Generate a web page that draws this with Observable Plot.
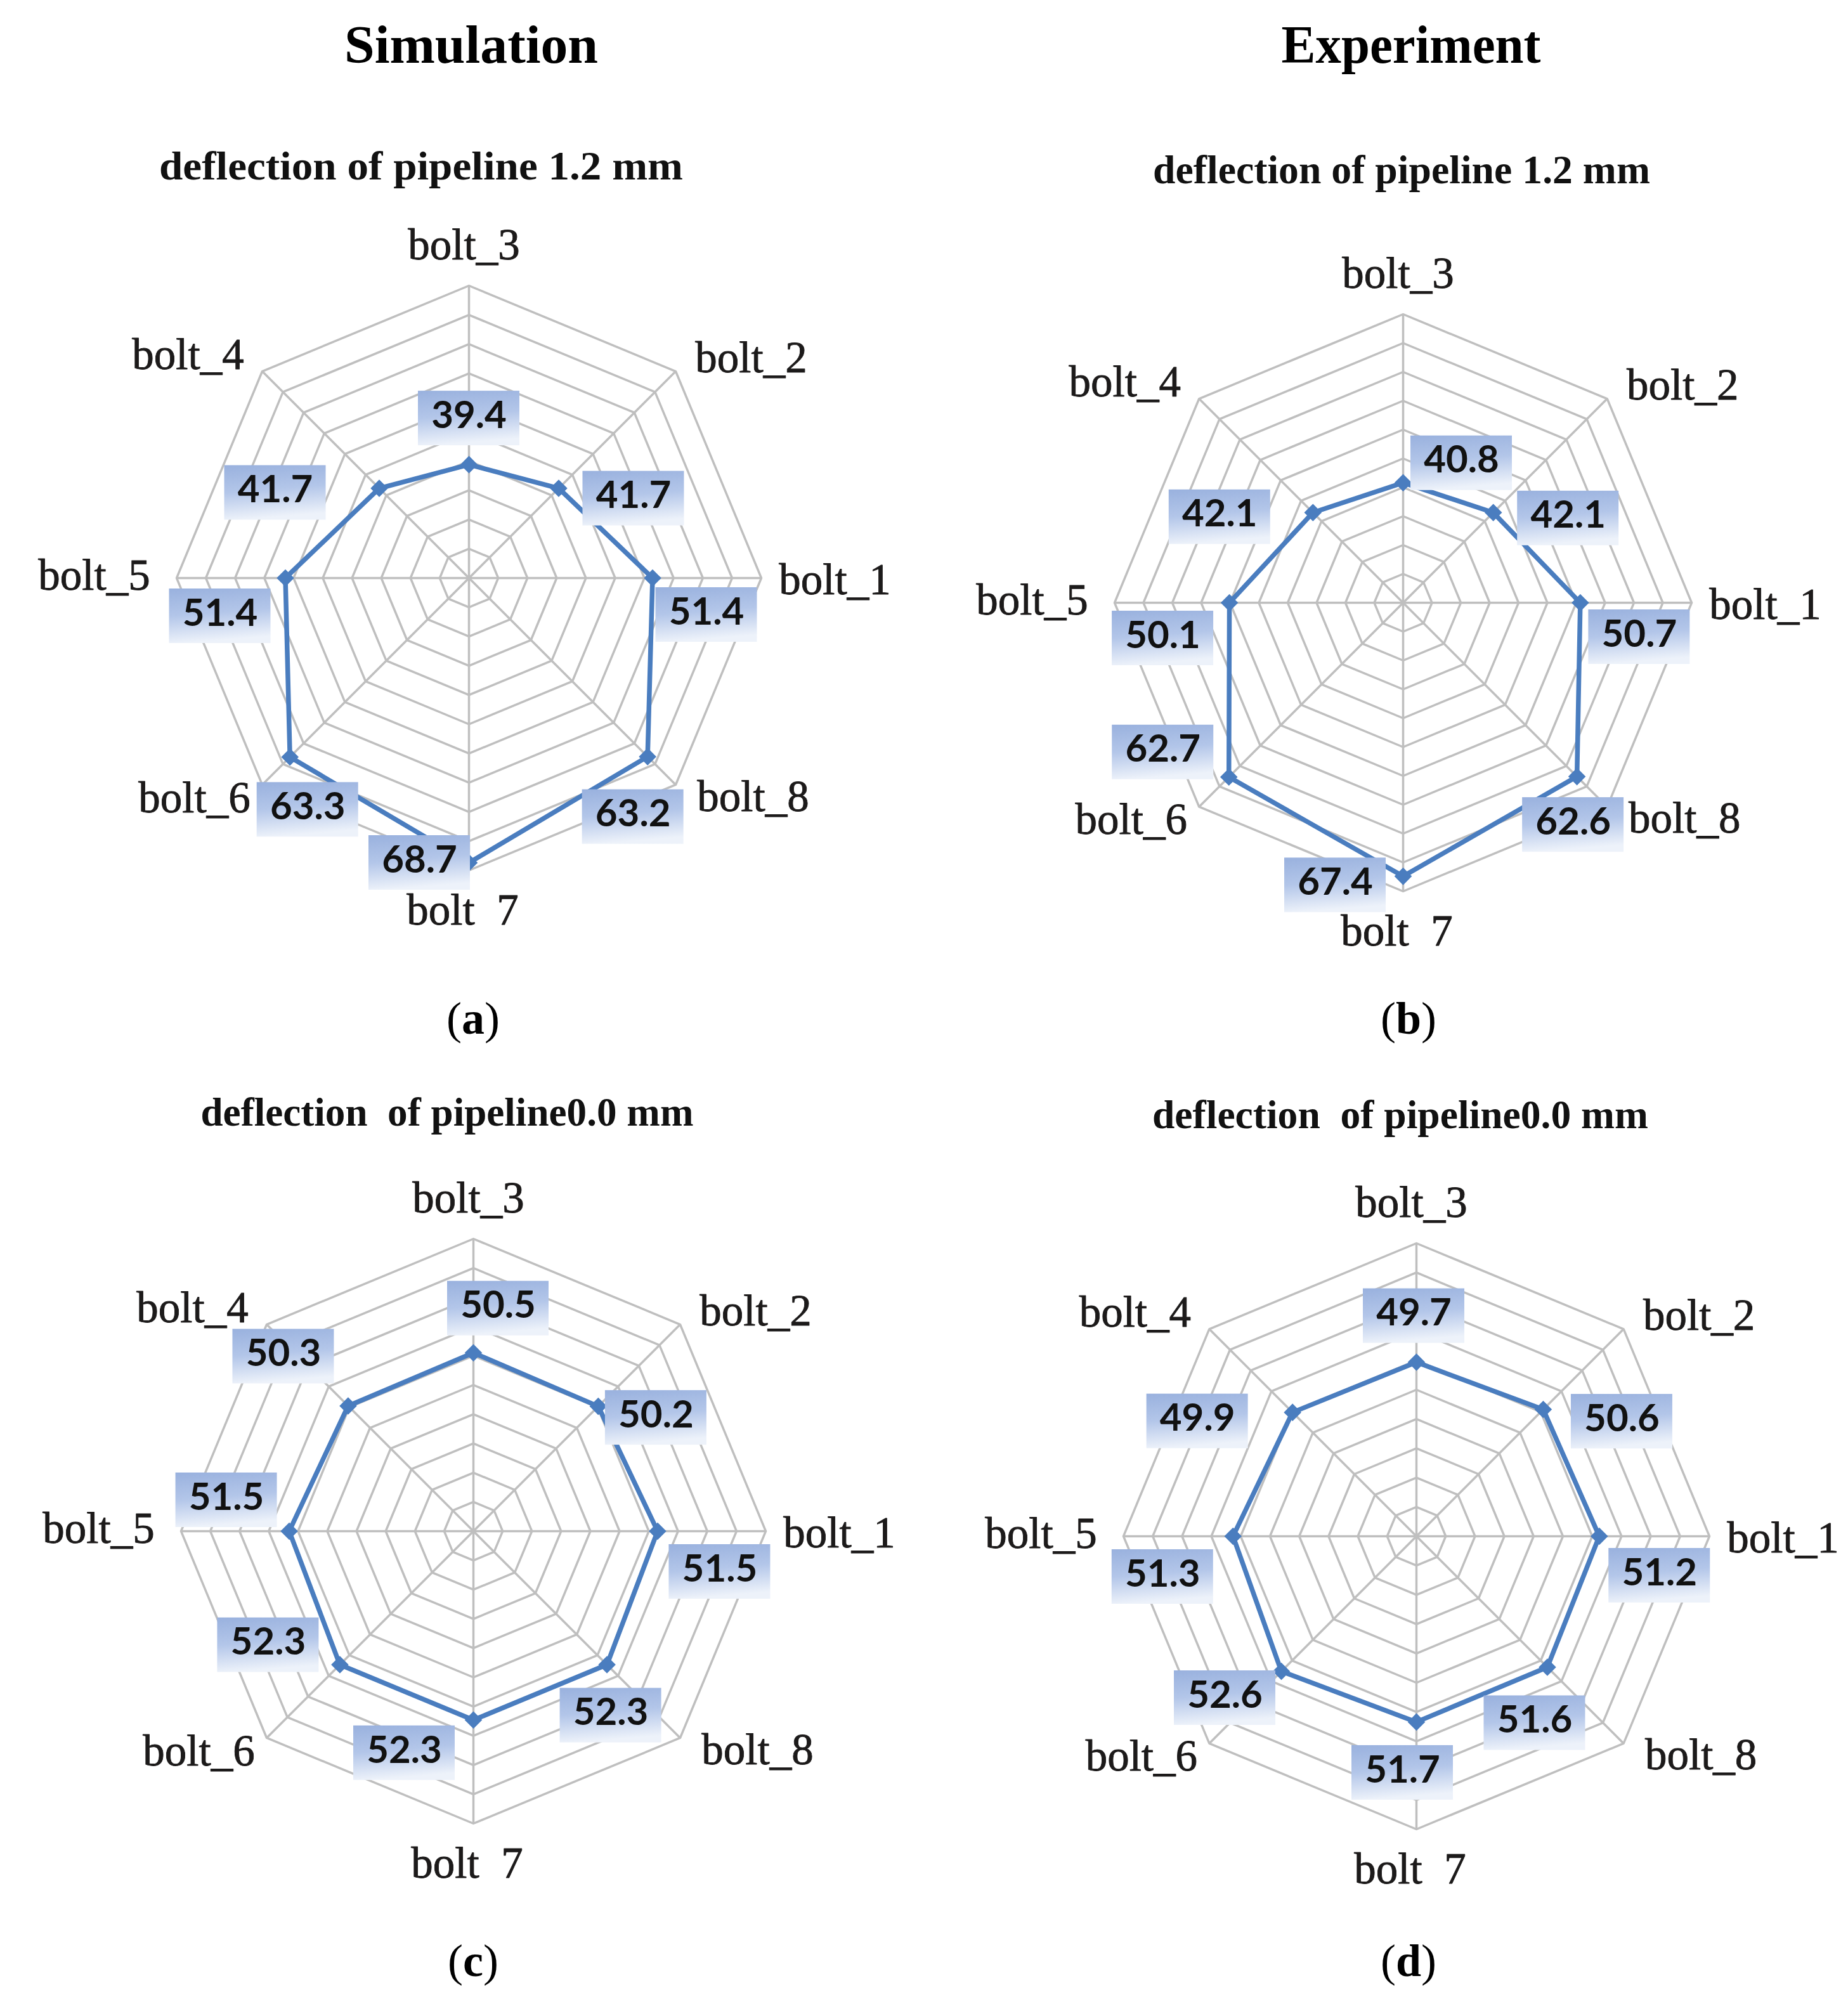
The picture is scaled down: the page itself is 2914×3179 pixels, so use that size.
<!DOCTYPE html>
<html>
<head>
<meta charset="utf-8">
<script src="https://cdn.jsdelivr.net/npm/d3@7"></script>
<script src="https://cdn.jsdelivr.net/npm/@observablehq/plot@0.6"></script>
<style>
  html, body { margin: 0; padding: 0; background: #ffffff; }
  #page { position: relative; width: 2914px; height: 3179px; overflow: hidden; background: #ffffff; }
  #page svg.plotbox { position: absolute; max-width: none; }
  #overlay { position: absolute; left: 0; top: 0; }
  #overlay text { white-space: pre; }
</style>
</head>
<body>
<div id="page">
  <svg width="0" height="0" style="position:absolute">
    <defs>
      <linearGradient id="lblGrad" x1="0" y1="0" x2="0.15" y2="1">
        <stop offset="0" stop-color="#99b1de"/>
        <stop offset="0.5" stop-color="#b3c6e9"/>
        <stop offset="1" stop-color="#edf2fa"/>
      </linearGradient>
    </defs>
  </svg>
</div>
<script>
// ---------- data ----------
const bolts = ["bolt_1", "bolt_2", "bolt_3", "bolt_4", "bolt_5", "bolt_6", "bolt_7", "bolt_8"];
const boltTickLabels = ["bolt_1", "bolt_2", "bolt_3", "bolt_4", "bolt_5", "bolt_6", "bolt  7", "bolt_8"];
const simulation12 = [51.4, 41.7, 39.4, 41.7, 51.4, 63.3, 68.7, 63.2];
const experiment12 = [50.7, 42.1, 40.8, 42.1, 50.1, 62.7, 67.4, 62.6];
const simulation00 = [51.5, 50.2, 50.5, 50.3, 51.5, 52.3, 52.3, 52.3];
const experiment00 = [51.2, 50.6, 49.7, 49.9, 51.3, 52.6, 51.7, 51.6];
const ringValues = [25, 30, 35, 40, 45, 50, 55, 60, 65, 70];
const axisMin = 20, axisMax = 70;

const columnTitles = ["Simulation", "Experiment"];
const chartTitles = ["deflection of pipeline 1.2 mm", "deflection of pipeline 1.2 mm",
                     "deflection  of pipeline0.0 mm", "deflection  of pipeline0.0 mm"];
const panelLetters = ["a", "b", "c", "d"];

// ---------- layout (pixels) ----------
const layouts = [
  {cx: 739,  cy: 911,  R: 461, labelOffsets: [[85,58],[118,16],[0,-73],[-164,7],[-103,60],[28,83],[-78,0],[-23,95]]},
  {cx: 2212, cy: 950,  R: 455, labelOffsets: [[93,54],[118,9],[92,-31],[-147,7],[-105,56],[-104,-39],[-107,14],[-6,76]]},
  {cx: 746,  cy: 2414, R: 461, labelOffsets: [[98,64],[91,18],[39,-70],[-102,-78],[-99,-49],[-113,-31],[-109,52],[6,80]]},
  {cx: 2233, cy: 2422, R: 462, labelOffsets: [[95,62],[124,19],[-4,-73],[-150,14],[-111,64],[-89,42],[-22,80],[-20,88]]}
];
const axisLabelNudge = [[116,3],[119,-21],[-8,-64],[-117,-26],[-130,-4],[-107,21],[-10,63],[122,19]];
const titleLayout = [
  {x: 664,  y: 283,  len: 826},
  {x: 2210, y: 289,  len: 784},
  {x: 705,  y: 1775, len: 777},
  {x: 2208, y: 1779, len: 782}
];
const letterLayout = [{x: 746, y: 1630}, {x: 2221, y: 1630}, {x: 746, y: 3116}, {x: 2221, y: 3116}];

const seriesList = [simulation12, experiment12, simulation00, experiment00];

const BOX_W = 160, BOX_H = 86;
const GRID = "#bfbfbf", LINE = "#4a7dbf";

function angle(i) { return i * Math.PI / 4; }

function radar(values, lay) {
  const k = lay.R / (axisMax - axisMin);       // pixels per unit
  const W = 1440, H = 1340;
  const span = axisMax - axisMin;
  const pts = values.map((v, i) => ({
    i, v,
    x: (v - axisMin) * Math.cos(angle(i)),
    y: (v - axisMin) * Math.sin(angle(i)),
    ox: lay.labelOffsets[i][0] / k,
    oy: -lay.labelOffsets[i][1] / k
  }));
  const ringData = ringValues.flatMap(r =>
    d3.range(9).map(j => ({r, x: (r - axisMin) * Math.cos(angle(j % 8)), y: (r - axisMin) * Math.sin(angle(j % 8))})));
  const idx = bolts.map((b, i) => i);

  const svg = Plot.plot({
    width: W, height: H,
    margin: 0,
    x: {type: "linear", domain: [-W / 2 / k, W / 2 / k], axis: null},
    y: {type: "linear", domain: [-H / 2 / k, H / 2 / k], axis: null},
    style: {background: "transparent", overflow: "visible"},
    marks: [
      Plot.line(ringData, {x: "x", y: "y", z: "r", stroke: GRID, strokeWidth: 3.5}),
      Plot.link(idx, {x1: 0, y1: 0,
        x2: i => span * Math.cos(angle(i)), y2: i => span * Math.sin(angle(i)),
        stroke: GRID, strokeWidth: 3.5}),
      Plot.line([...pts, pts[0]], {x: "x", y: "y", stroke: LINE, strokeWidth: 7.5, strokeLinejoin: "round"}),
      Plot.dot(pts, {x: "x", y: "y", symbol: "square", r: 11, fill: LINE, rotate: 45}),
      Plot.rect(pts, {
        x1: d => d.x + d.ox - BOX_W / 2 / k, x2: d => d.x + d.ox + BOX_W / 2 / k,
        y1: d => d.y + d.oy + BOX_H / 2 / k, y2: d => d.y + d.oy - BOX_H / 2 / k,
        fill: "url(#lblGrad)"
      }),
      Plot.text(pts, {
        x: d => d.x + d.ox, y: d => d.y + d.oy + 4 / k,
        text: d => d.v.toFixed(1),
        fontFamily: "Lato", fontWeight: "bold", fontSize: 60, fill: "#111111"
      }),
      Plot.text(idx, {
        x: i => span * Math.cos(angle(i)) + axisLabelNudge[i][0] / k,
        y: i => span * Math.sin(angle(i)) - axisLabelNudge[i][1] / k,
        text: i => boltTickLabels[i],
        fontFamily: "Liberation Serif", fontSize: 69, fill: "#1c1a1a",
        stroke: "#1c1a1a", strokeWidth: 0.9
      })
    ]
  });
  svg.classList.add("plotbox");
  svg.style.left = (lay.cx - W / 2) + "px";
  svg.style.top = (lay.cy - H / 2) + "px";
  return svg;
}

const page = document.getElementById("page");
seriesList.forEach((vals, c) => page.appendChild(radar(vals, layouts[c])));

// ---------- titles overlay ----------
const ov = d3.select(page).append("svg").attr("id", "overlay")
  .attr("width", 2914).attr("height", 3179);
const serif = "Liberation Serif, serif";
[{x: 743, text: columnTitles[0], len: 400}, {x: 2225, text: columnTitles[1], len: 409}].forEach(t => {
  ov.append("text").attr("x", t.x).attr("y", 99).attr("text-anchor", "middle")
    .attr("font-family", serif).attr("font-weight", "bold").attr("font-size", 84)
    .attr("textLength", t.len).attr("lengthAdjust", "spacingAndGlyphs")
    .text(t.text);
});
chartTitles.forEach((t, c) => {
  const L = titleLayout[c];
  ov.append("text").attr("x", L.x).attr("y", L.y).attr("text-anchor", "middle")
    .attr("font-family", serif).attr("font-weight", "bold").attr("font-size", 64)
    .attr("fill", "#111").attr("textLength", L.len).attr("lengthAdjust", "spacingAndGlyphs")
    .attr("xml:space", "preserve")
    .text(t);
});
panelLetters.forEach((l, c) => {
  const L = letterLayout[c];
  const t = ov.append("text").attr("x", L.x).attr("y", L.y).attr("text-anchor", "middle")
    .attr("font-family", serif).attr("font-size", 72);
  t.append("tspan").text("(");
  t.append("tspan").attr("font-weight", "bold").text(l);
  t.append("tspan").text(")");
});
</script>
</body>
</html>
